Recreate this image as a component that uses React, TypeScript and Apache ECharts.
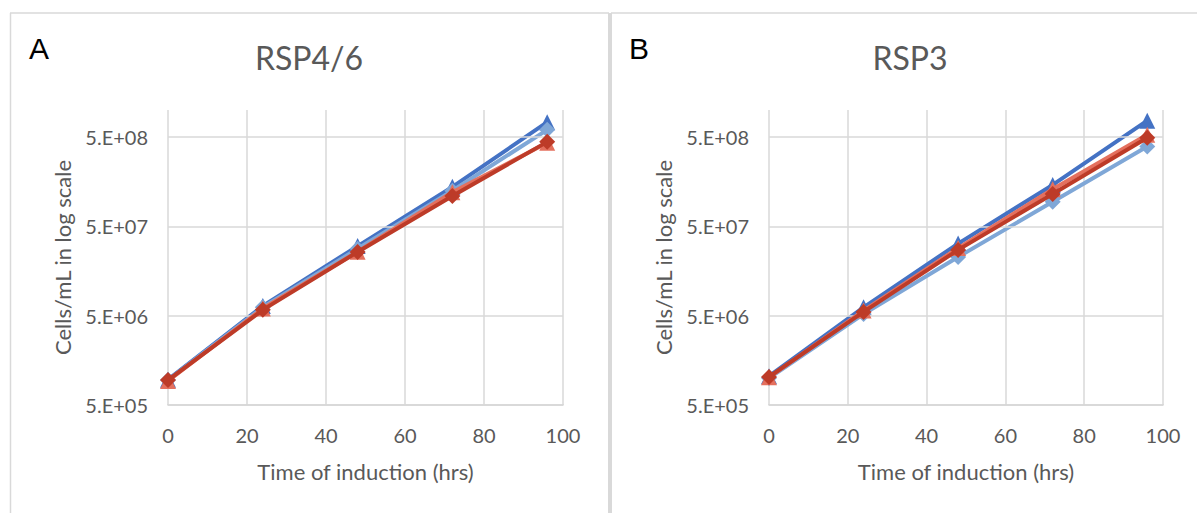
import React, { useEffect, useRef } from "react";
import * as echarts from "echarts";

const times = [0, 24, 48, 72, 96];

const darkBlueA = [9.6e5, 6.4e6, 3.0e7, 1.38e8, 7.3e8];
const lightBlueA = [9.5e5, 6.2e6, 2.8e7, 1.25e8, 6.0e8];
const salmonA = [9.3e5, 6.0e6, 2.6e7, 1.2e8, 4.3e8];
const redA = [9.5e5, 5.8e6, 2.58e7, 1.09e8, 4.4e8];

const darkBlueB = [1.05e6, 6.2e6, 3.2e7, 1.45e8, 7.6e8];
const lightBlueB = [1.0e6, 5.2e6, 2.27e7, 9.4e7, 3.9e8];
const salmonB = [1.02e6, 5.7e6, 2.85e7, 1.3e8, 5.3e8];
const redB = [1.03e6, 5.5e6, 2.72e7, 1.15e8, 4.9e8];

const yTickValues = [5e5, 5e6, 5e7, 5e8];
const yTickLabels = ["5.E+05", "5.E+06", "5.E+07", "5.E+08"];

const panelTitles = ["RSP4/6", "RSP3"];
const panelLetters = ["A", "B"];
const xAxisTitle = "Time of induction (hrs)";
const yAxisTitle = "Cells/mL in log scale";

const TXT = "#595959";
const GRID = "#d9d9d9";
const FONT = "Lato";

export default function App() {
  const ref = useRef<HTMLDivElement>(null);
  useEffect(() => {
    if (!ref.current) return;
    const chart = echarts.init(ref.current, undefined, { renderer: "svg" });

    const grids = [
      { left: 168, top: 110, width: 395, height: 295 },
      { left: 769, top: 110, width: 394, height: 295 },
    ];

    const xAxes = grids.map((_, i) => ({
      type: "value",
      gridIndex: i,
      min: 0,
      max: 100,
      interval: 20,
      name: xAxisTitle,
      nameLocation: "middle",
      nameGap: 55,
      nameTextStyle: { color: TXT, fontSize: 22, fontFamily: FONT },
      axisLine: { show: true, lineStyle: { color: "#d0d0d0", width: 1.5 } },
      axisTick: { show: false },
      axisLabel: { color: TXT, fontSize: 20, fontFamily: FONT, margin: 20 },
      splitLine: { show: true, lineStyle: { color: GRID, width: 1.5 } },
    }));

    const yAxes = grids.map((_, i) => ({
      type: "log",
      logBase: 10,
      gridIndex: i,
      min: 5e5,
      max: 1e9,
      name: yAxisTitle,
      nameLocation: "middle",
      nameGap: 95,
      nameTextStyle: { color: TXT, fontSize: 22, fontFamily: FONT },
      axisLine: { show: false },
      axisTick: { show: false },
      axisLabel: { show: false },
      splitLine: { show: false },
    }));

    const styleDefs = [
      { color: "#4472c4", symbol: "triangle" },
      { color: "#7fa7d7", symbol: "diamond" },
      { color: "#e4705e", symbol: "triangle" },
      { color: "#bd3b28", symbol: "diamond" },
    ];
    const panelData = [
      [darkBlueA, lightBlueA, salmonA, redA],
      [darkBlueB, lightBlueB, salmonB, redB],
    ];

    const series: any[] = [];
    panelData.forEach((sets, p) => {
      series.push({
        type: "line",
        xAxisIndex: p,
        yAxisIndex: p,
        data: [],
        z: 1,
        silent: true,
        markLine: {
          silent: true,
          symbol: ["none", "none"],
          lineStyle: { color: GRID, width: 1.5, type: "solid" },
          label: {
            show: true,
            position: "start",
            formatter: "{b}",
            distance: 20,
            color: TXT,
            fontSize: 20,
            fontFamily: FONT,
          },
          emphasis: { disabled: true },
          data: yTickValues.map((v, i) => ({ yAxis: v, name: yTickLabels[i] })),
        },
      });
      sets.forEach((vals, k) => {
        series.push({
          type: "line",
          xAxisIndex: p,
          yAxisIndex: p,
          z: 3 + k,
          data: times.map((t, j) => [t, vals[j]]),
          symbol: styleDefs[k].symbol,
          symbolSize: 16,
          lineStyle: { color: styleDefs[k].color, width: 4 },
          itemStyle: { color: styleDefs[k].color },
        });
      });
    });

    const graphic: any[] = [
      { type: "line", shape: { x1: 10.5, y1: 13, x2: 10.5, y2: 513 }, style: { stroke: GRID, lineWidth: 1.5 } },
      { type: "line", shape: { x1: 10, y1: 13, x2: 609, y2: 13 }, style: { stroke: GRID, lineWidth: 1.5 } },
      { type: "line", shape: { x1: 609, y1: 13, x2: 609, y2: 513 }, style: { stroke: GRID, lineWidth: 2 } },
      { type: "line", shape: { x1: 611, y1: 13, x2: 611, y2: 513 }, style: { stroke: GRID, lineWidth: 2 } },
      { type: "line", shape: { x1: 611, y1: 13, x2: 1197, y2: 13 }, style: { stroke: GRID, lineWidth: 1.5 } },
      {
        type: "text", x: 309, y: 57,
        style: { text: panelTitles[0], fill: TXT, fontSize: 32, fontFamily: FONT, textAlign: "center", textVerticalAlign: "middle" },
      },
      {
        type: "text", x: 910, y: 57,
        style: { text: panelTitles[1], fill: TXT, fontSize: 32, fontFamily: FONT, textAlign: "center", textVerticalAlign: "middle" },
      },
      {
        type: "text", x: 29, y: 48,
        style: { text: panelLetters[0], fill: "#000", fontSize: 30, fontFamily: "Liberation Sans", textAlign: "left", textVerticalAlign: "middle" },
      },
      {
        type: "text", x: 629, y: 48,
        style: { text: panelLetters[1], fill: "#000", fontSize: 30, fontFamily: "Liberation Sans", textAlign: "left", textVerticalAlign: "middle" },
      },
    ];

    chart.setOption({
      animation: false,
      backgroundColor: "#ffffff",
      grid: grids,
      xAxis: xAxes,
      yAxis: yAxes,
      series,
      graphic,
    });
    return () => chart.dispose();
  }, []);
  return (
    <div
      ref={ref}
      style={{ position: "absolute", left: 0, top: 0, width: 1197, height: 513 }}
    />
  );
}
